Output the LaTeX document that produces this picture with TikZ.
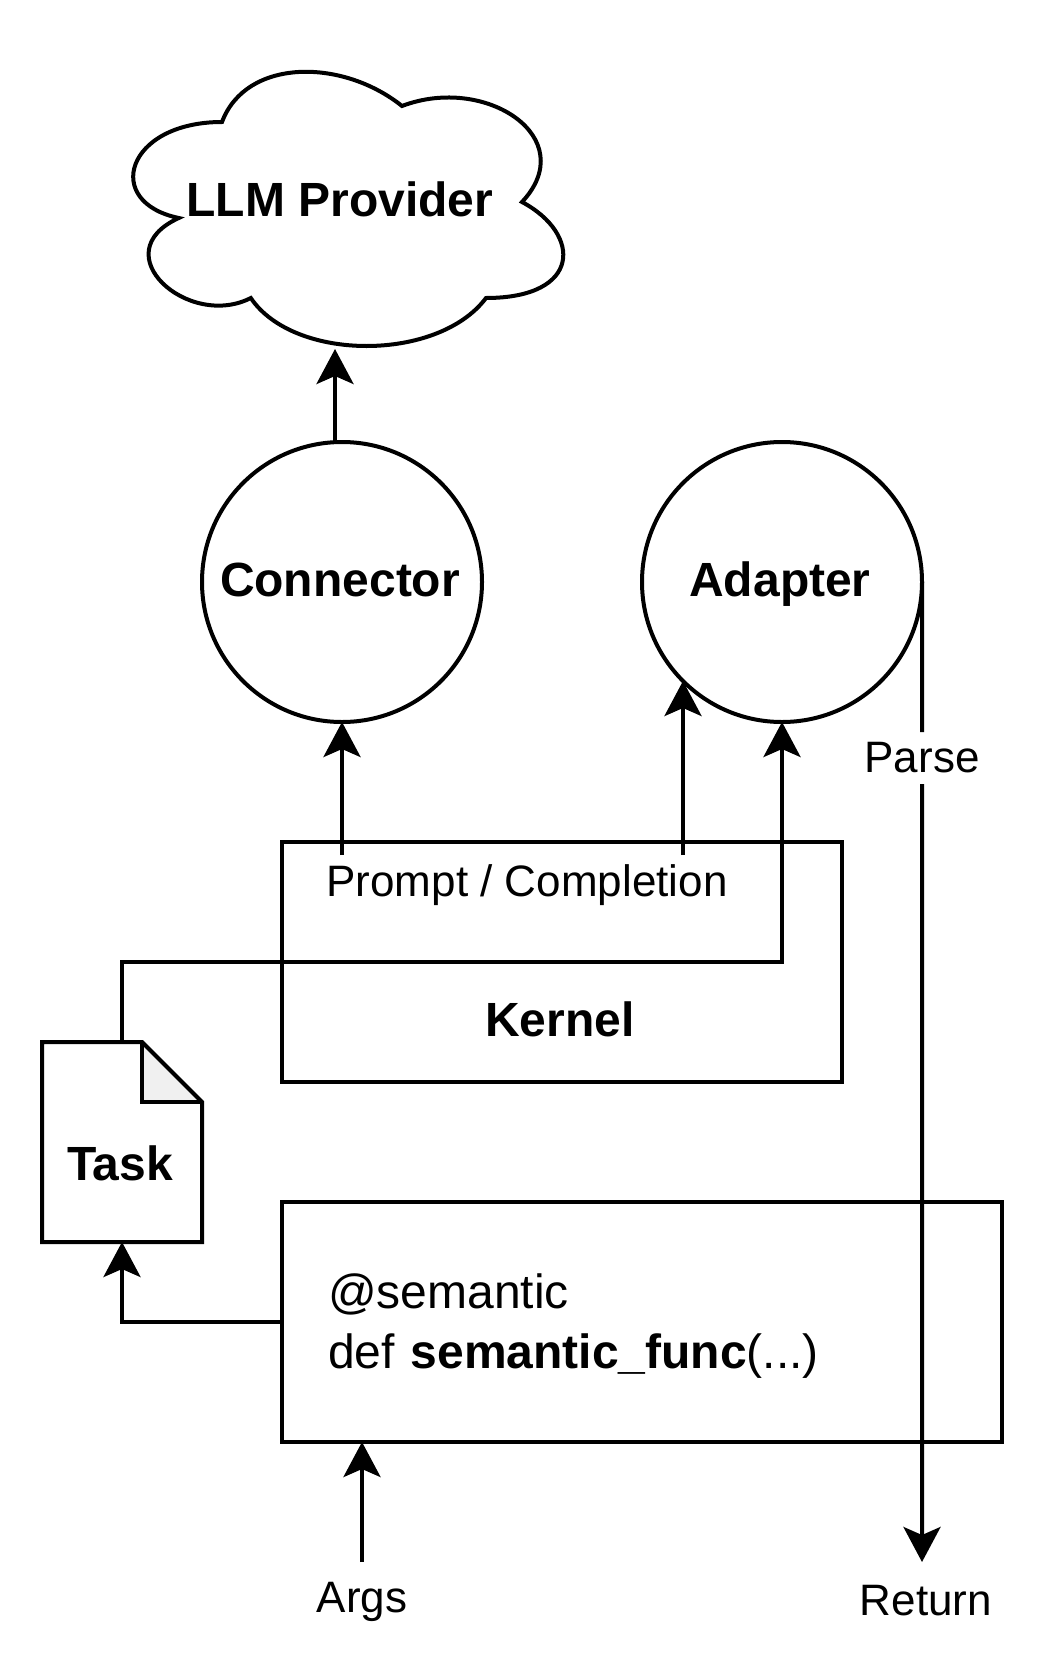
\documentclass[tikz,border=0pt]{standalone}
\usepackage{fontspec}
\setmainfont{Liberation Sans}
\usetikzlibrary{positioning,arrows.meta}

\begin{document}
\begin{tikzpicture}[line width=0.1cm,
    base font/.style={font=\fontsize{34.14}{42.68}\selectfont},
    small font/.style={font=\fontsize{31.3}{42.68}\selectfont},
    title font/.style={font=\fontsize{34.14}{42.68}\selectfont\bfseries},
    sem block/.style={rectangle, draw, outer sep=0pt, inner sep=0pt, minimum width=14cm, minimum height=6cm, base font},
    sem circle/.style={circle, draw, outer sep=0pt, inner sep=0pt, minimum size=7cm, text height=0.9cm, text depth=0.2cm, title font, execute at end node={\kern0.1cm}},
    sem label/.style={outer sep=0pt, inner xsep=0pt, text height=0.9cm, text depth=0cm, small font},
    sem arrow/.style={-{Stealth[length=0.875cm, width=0.925cm, inset=0.2cm]}},
    fold fill/.style={fill=black!6}]

    \useasboundingbox (0,0) rectangle (26.1,-41.8);

    \node [outer sep=0pt, inner sep=0pt, minimum width=12cm, minimum height=8cm, text height=0.9cm, text depth=0.2cm, title font] (provider) at (8.5,-5.05) {LLM Provider};
    \node [sem circle] (connector) at (8.55,-14.55) {Connector};
    \node [sem circle, right=4cm of connector] (adapter) {Adapter};

    \node [sem block] (kernel) at (14.05,-24.05) {};
    \node [sem label, title font] (kernel title) at (14,-25.45) {Kernel};
    \node [sem label, inner ysep=0.125cm] (prompt) at (13.175,-21.95) {Prompt / Completion};

    \node [outer sep=0pt, inner sep=0pt, minimum width=4cm, minimum height=5cm, text height=1.9cm, text depth=0cm, title font, execute at end node={\kern0.1cm}] (task) at (3.05,-28.55) {Task};
    \node [sem block, minimum width=18cm, inner xsep=1.15cm, text width=15.7cm, align=left] (func) at (16.05,-33.05) {\rule{0pt}{1.08cm}@semantic\\def \textbf{semantic\_func}(...)};

    \node [sem label, inner ysep=0.35cm] (args) at (9.05,-39.85) {Args};
    \node [sem label, inner ysep=0.425cm] (return) at (23.15,-39.925) {Return};
    \node [sem label, text depth=0.2cm, inner ysep=0.1cm] (parse) at (23.05,-18.95) {Parse};

    % cloud outline, in fractions of the provider box
    \begin{scope}[shift={([xshift=0.05cm]provider.north west)}, x=12cm, y=-8cm]
        \draw (0.25,0.25) .. controls (0.05,0.25) and (0,0.5) .. (0.16,0.55)
            .. controls (0,0.66) and (0.18,0.9) .. (0.31,0.8)
            .. controls (0.4,1) and (0.7,1) .. (0.8,0.8)
            .. controls (1,0.8) and (1,0.6) .. (0.875,0.5)
            .. controls (1,0.3) and (0.8,0.1) .. (0.625,0.2)
            .. controls (0.5,0.05) and (0.3,0.05) .. (0.25,0.25) -- cycle;
    \end{scope}

    % page with folded corner
    \draw [fold fill] ([xshift=-1.5cm]task.north east) -- ([xshift=-1.5cm, yshift=-1.5cm]task.north east)
        -- ([yshift=-1.5cm]task.north east);
    \draw (task.north west) -- ([xshift=-1.5cm]task.north east) -- ([yshift=-1.5cm]task.north east)
        -- (task.south east) -- (task.south west) -- cycle;

    \coordinate (cloud tip) at (8.375,-8.725);
    \draw [sem arrow] (cloud tip |- connector.north) -- (cloud tip);
    \draw [sem arrow] (prompt.north -| connector.south) -- (connector.south);
    \draw [sem arrow] (prompt.north -| adapter.225) -- (adapter.225);
    \draw [sem arrow] (task.north) -- ++(0,2) -| (adapter.south);
    \draw [sem arrow] (func.west) -| (task.south);
    \draw [sem arrow] (args.north) -- (args.north |- func.south);
    \draw (adapter.east) -- (parse.north);
    \draw [sem arrow] (parse.south) -- (adapter.east |- return.north);

\end{tikzpicture}
\end{document}
